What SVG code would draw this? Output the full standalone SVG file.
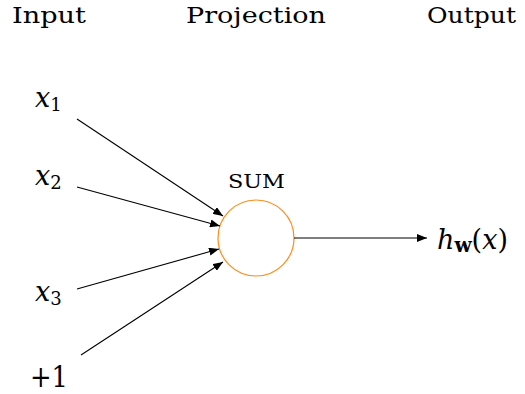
<svg xmlns="http://www.w3.org/2000/svg" width="525" height="394" viewBox="0 0 525 394">
<style>
.t{font-family:'DejaVu Serif','Liberation Serif',serif;fill:#000}
.h{font-size:23px}
.v{font-size:27px;font-style:italic}
.s{font-size:18px;font-style:normal}
.c{stroke:#000;stroke-width:1.1;fill:none;marker-end:url(#a)}
</style>
<defs>
<marker id="a" viewBox="0 0 10 8" refX="10" refY="4" markerWidth="10" markerHeight="8" markerUnits="userSpaceOnUse" orient="auto">
<path d="M0,0 L10,4 L0,8 Z" fill="#000"/>
</marker>
</defs>
<g id="headers">
<text class="t h" x="12" y="23" textLength="74" lengthAdjust="spacingAndGlyphs">Input</text>
<text class="t h" x="186" y="23" textLength="140" lengthAdjust="spacingAndGlyphs">Projection</text>
<text class="t h" x="427" y="23" textLength="89" lengthAdjust="spacingAndGlyphs">Output</text>
</g>
<g id="x1"><text class="t v" x="35" y="107">x<tspan class="s" dy="4">1</tspan></text></g>
<g id="x2"><text class="t v" x="35" y="185">x<tspan class="s" dy="4">2</tspan></text></g>
<g id="x3"><text class="t v" x="35" y="301">x<tspan class="s" dy="4">3</tspan></text></g>
<g id="bias"><text class="t" x="30" y="387" style="font-size:30px" textLength="38" lengthAdjust="spacingAndGlyphs">+1</text></g>
<g id="sum">
<text class="t" x="228" y="188" style="font-size:18px" textLength="57" lengthAdjust="spacingAndGlyphs">SUM</text>
<circle cx="256" cy="238" r="38" fill="none" stroke="#ff8c1a" stroke-width="1.2"/>
</g>
<g id="output"><text class="t v" x="437" y="249">h<tspan class="s" style="font-weight:bold;font-size:20px" dy="3">w</tspan><tspan dy="-3" style="font-style:normal">(</tspan>x<tspan style="font-style:normal">)</tspan></text></g>
<g id="connectors">
<line class="c" x1="77" y1="119" x2="223" y2="216"/>
<line class="c" x1="77" y1="187" x2="220" y2="226"/>
<line class="c" x1="77" y1="289" x2="219" y2="249"/>
<line class="c" x1="81" y1="355" x2="223" y2="262"/>
<line class="c" x1="294" y1="238" x2="427" y2="238"/>
</g>
</svg>
